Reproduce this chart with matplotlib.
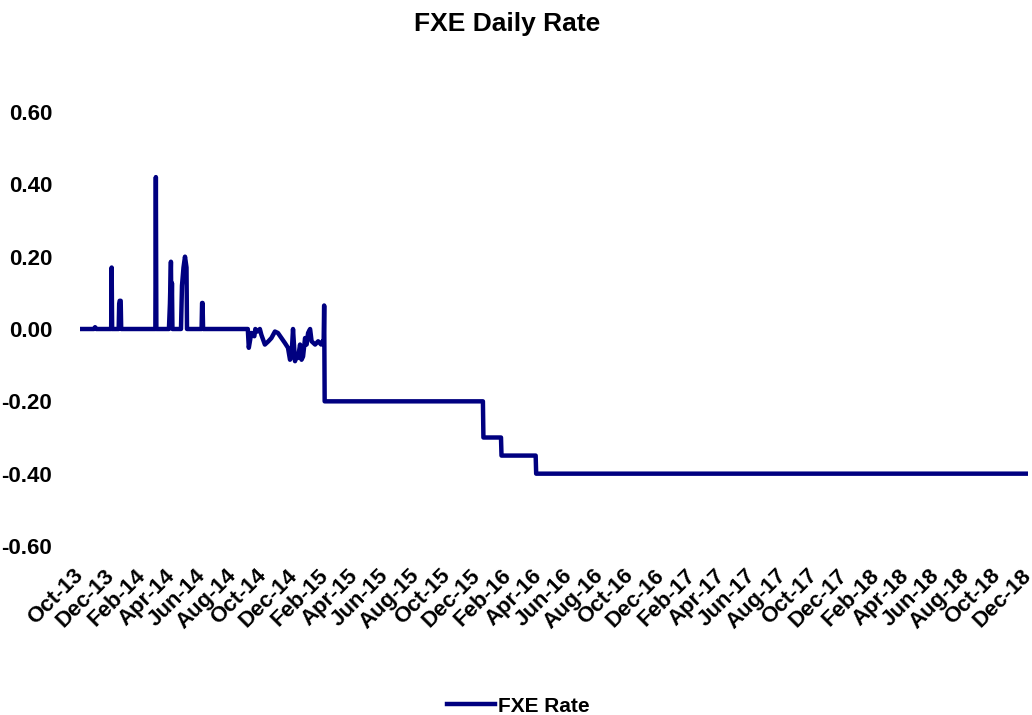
import matplotlib
matplotlib.use("Agg")
import matplotlib.pyplot as plt
import matplotlib.dates as mdates
from matplotlib.ticker import FuncFormatter, FixedLocator
import pandas as pd

plt.rcParams['font.family'] = ['Liberation Sans', 'DejaVu Sans']
plt.rcParams['axes.unicode_minus'] = False

# ---- data ----
dates = [
    "2013-10-01", "2013-10-29", "2013-10-31", "2013-11-02",
    "2013-12-02", "2013-12-03", "2013-12-04",
    "2013-12-17", "2013-12-18", "2013-12-19", "2013-12-21", "2013-12-22",
    "2014-02-28", "2014-03-01", "2014-03-02",
    "2014-03-27", "2014-03-29", "2014-03-31", "2014-04-01", "2014-04-02", "2014-04-03",
    "2014-04-20", "2014-04-22", "2014-04-25", "2014-04-28", "2014-04-30", "2014-05-01", "2014-05-02",
    "2014-05-31", "2014-06-01", "2014-06-02", "2014-06-03",
    "2014-08-31", "2014-09-02", "2014-09-07", "2014-09-13", "2014-09-15", "2014-09-19",
    "2014-09-24", "2014-09-27", "2014-10-04", "2014-10-11", "2014-10-17", "2014-10-24",
    "2014-10-30", "2014-11-06", "2014-11-13", "2014-11-19", "2014-11-23", "2014-11-26",
    "2014-11-29", "2014-12-03", "2014-12-06", "2014-12-09", "2014-12-13", "2014-12-16",
    "2014-12-19", "2014-12-23", "2014-12-26", "2014-12-29", "2015-01-02", "2015-01-05",
    "2015-01-12", "2015-01-18", "2015-01-24", "2015-01-27", "2015-01-29", "2015-01-30",
    "2015-01-31",
    "2015-12-12", "2015-12-13",
    "2016-01-17", "2016-01-18",
    "2016-03-26", "2016-03-27",
    "2018-12-01",
]
rates = [
    0.0, 0.0, 0.005, 0.0,
    0.0, 0.17, 0.0,
    0.0, 0.07, 0.078, 0.078, 0.0,
    0.0, 0.42, 0.0,
    0.0, 0.07, 0.186, 0.03, 0.127, 0.0,
    0.0, 0.12, 0.17, 0.20, 0.18, 0.17, 0.0,
    0.0, 0.072, 0.072, 0.0,
    0.0, -0.052, -0.011, -0.02, 0.0, -0.007,
    0.0, -0.016, -0.043, -0.034, -0.025, -0.007,
    -0.011, -0.025, -0.039, -0.052, -0.085, -0.076,
    0.0, -0.089, -0.071, -0.08, -0.043, -0.085,
    -0.076, -0.025, -0.043, -0.011, 0.0, -0.034,
    -0.043, -0.034, -0.043, -0.034, -0.034, 0.065,
    -0.20,
    -0.20, -0.30,
    -0.30, -0.35,
    -0.35, -0.40,
    -0.40,
]
series_name = "FXE Rate"
title = "FXE Daily Rate"
y_ticks = [0.60, 0.40, 0.20, 0.00, -0.20, -0.40, -0.60]

x = pd.to_datetime(dates)

fig = plt.figure(figsize=(10.32, 7.15), dpi=100)
ax = fig.add_axes([80/1032, 1-546/715, (1028-80)/1032, (546-112)/715])

ax.plot(x, rates, color='#000080', linewidth=3.2, solid_joinstyle='round',
        label=series_name)

ax.set_xlim(pd.Timestamp("2013-10-01"), pd.Timestamp("2018-12-01"))
ax.set_ylim(-0.6, 0.6)

ax.yaxis.set_major_locator(FixedLocator(y_ticks))
ax.yaxis.set_major_formatter(FuncFormatter(lambda v, p: f"{v:.2f}"))
ax.xaxis.set_major_locator(mdates.MonthLocator(bymonth=[2, 4, 6, 8, 10, 12]))
ax.xaxis.set_major_formatter(mdates.DateFormatter("%b-%y"))

for s in ax.spines.values():
    s.set_visible(False)
ax.tick_params(axis='both', length=0)
ax.tick_params(axis='y', pad=20, labelsize=16)
ax.tick_params(axis='x', pad=19, labelsize=16)
for lab in ax.get_yticklabels():
    lab.set_fontweight('bold')
for lab in ax.get_xticklabels():
    lab.set_fontweight('bold')
    lab.set_rotation(45)
    lab.set_ha('right')
    lab.set_va('center')
    lab.set_rotation_mode('anchor')

fig.text(507/1032, 1-24/715, title, ha='center', va='center',
         fontsize=19, fontweight='bold')

leg = fig.legend(loc='center', bbox_to_anchor=(518/1032, 1-706/715),
                 frameon=False, prop={'size': 15, 'weight': 'bold'},
                 handlelength=2.3, handletextpad=0.15, borderpad=0,
                 borderaxespad=0)

fig.savefig("out.png", dpi=100)
